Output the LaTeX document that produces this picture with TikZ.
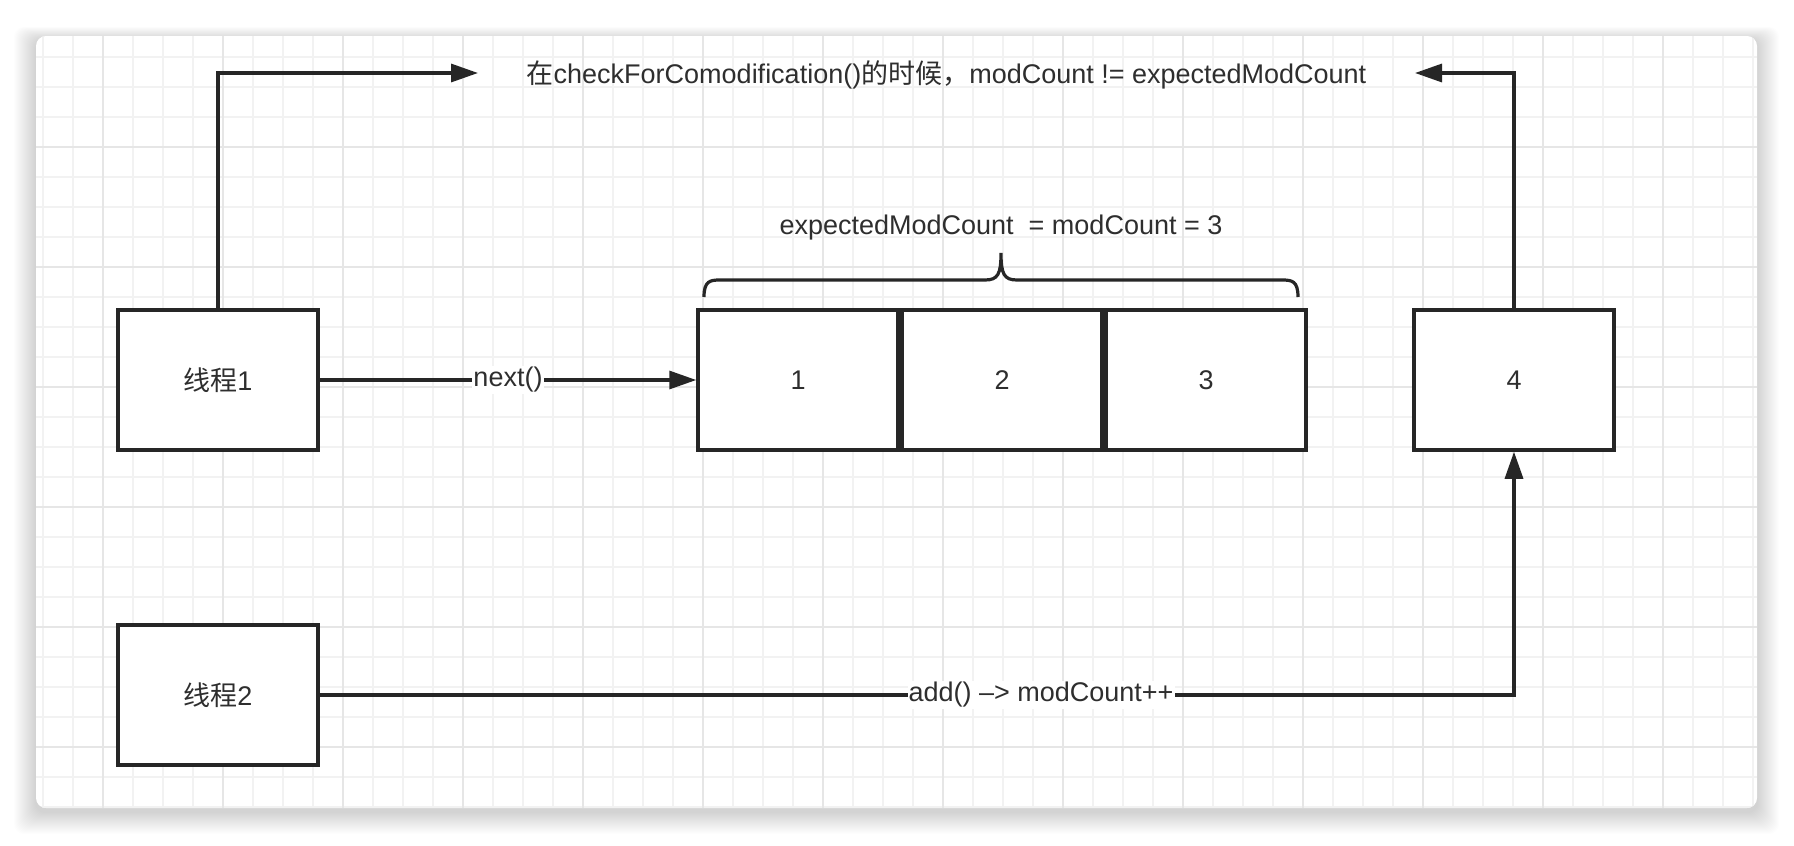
\documentclass[tikz,border=0pt]{standalone}
\usepackage{fontspec}
\setmainfont{Liberation Sans}
\newfontfamily\cjk{Noto Sans CJK SC}
\usetikzlibrary{arrows.meta}
\usetikzlibrary{positioning}
\tikzset{box/.style = {draw=mline, line width=3.5pt, fill=white,
                       minimum width=200pt, minimum height=140pt,
                       text=mtext, font=\fontsize{27}{32}\selectfont},
         conn/.style = {draw=mline, line width=3.2pt,
                        -{Triangle[length=27pt, width=18pt]}},
         lbl/.style = {fill=white, text=mtext, inner sep=1pt,
                       font=\fontsize{27}{32}\selectfont}}
\definecolor{mline}{HTML}{262626}
\definecolor{mtext}{HTML}{2E2E2E}
\definecolor{mgrid}{HTML}{F2F2F2}
\definecolor{mmajor}{HTML}{E6E6E6}

\begin{document}
\begin{tikzpicture}[x=1pt, y=-1pt]
    \useasboundingbox (0, 0) rectangle (1794, 846);
    \fill [white] (0, 0) rectangle (1794, 846);

    % shadow and card
    \foreach \i in {1,...,22}
      \fill [black, opacity=0.007, rounded corners=10pt]
        (36-\i, 36-0.6*\i+4) rectangle (1757+\i, 808+\i+4);
    \fill [white, rounded corners=10pt] (36, 36) rectangle (1757, 808);
    \begin{scope}
      \clip [rounded corners=10pt] (36, 36) rectangle (1757, 808);
      \foreach \x in {43,73,...,1753} \draw [mgrid, line width=1.3pt] (\x, 36) -- (\x, 808);
      \foreach \y in {57,87,...,807} \draw [mgrid, line width=1.3pt] (36, \y) -- (1757, \y);
      \foreach \x in {103,223,...,1663} \draw [mmajor, line width=1.3pt] (\x, 36) -- (\x, 808);
      \foreach \y in {147,267,...,747} \draw [mmajor, line width=1.3pt] (36, \y) -- (1757, \y);
    \end{scope}

    \node [box] (t1) at (218, 380) {\cjk 线程\rmfamily 1};
    \node [box] (t2) at (218, 695) {\cjk 线程\rmfamily 2};
    \node [box] (n1) at (798, 380) {1};
    \node [box, right=0.5pt of n1] (n2) {2};
    \node [box, right=0.5pt of n2] (n3) {3};
    \node [box] (n4) at (1514, 380) {4};

    \node [lbl, fill=none] (msg) at (946.5, 74.5) {\cjk 在\rmfamily checkForComodification()\cjk 的时候，\rmfamily modCount != expectedModCount};
    \node [lbl, fill=none] (cnt) at (1001, 227.5) {expectedModCount\ \ = modCount = 3};
    \coordinate (la) at (478, 73);
    \coordinate (ra) at (1415, 73);

    \draw [mline, line width=3.2pt] (704, 297) .. controls (704, 281) and (710, 280) .. (720, 280) -- (985, 280)
          .. controls (998, 280) and (1001, 274) .. (1001, 253)
          .. controls (1001, 274) and (1004, 280) .. (1017, 280) -- (1282, 280)
          .. controls (1292, 280) and (1298, 281) .. (1298, 297);

    \draw [conn] (t1.north) |- (la);
    \draw [conn] (n4.north) |- (ra);
    \draw [conn] (t1.east) -- node [lbl] {next()} (n1.west);
    \draw [conn] (t2.east) -| node [lbl, pos=0.302] {add() –> modCount++} (n4.south);
  \end{tikzpicture}
\end{document}
